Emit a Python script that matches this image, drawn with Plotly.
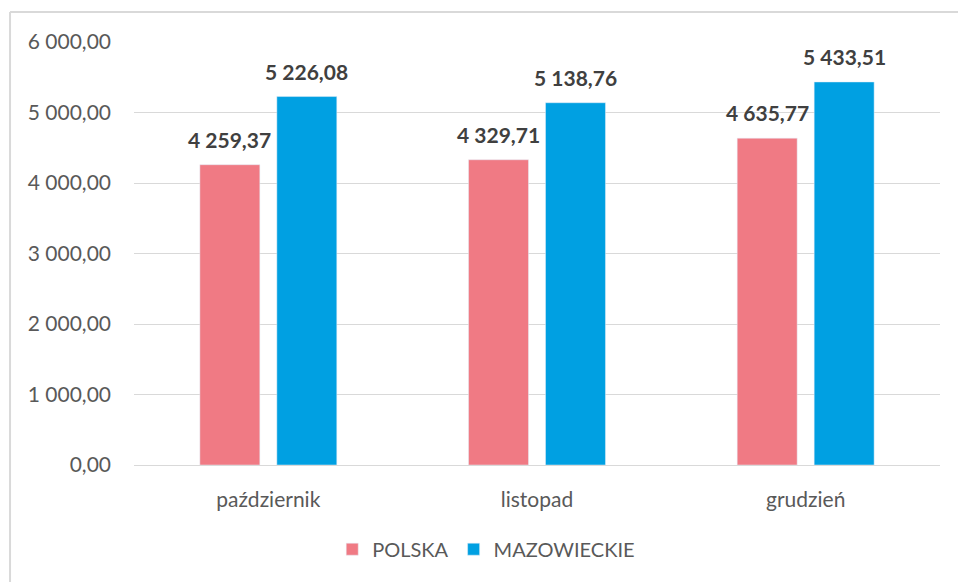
import plotly.graph_objects as go

categories = ["październik", "listopad", "grudzień"]
polska = [4259.37, 4329.71, 4635.77]
mazowieckie = [5226.08, 5138.76, 5433.51]
y_ticks = [0, 1000, 2000, 3000, 4000, 5000, 6000]
y_tick_labels = ["0,00", "1 000,00", "2 000,00", "3 000,00", "4 000,00", "5 000,00", "6 000,00"]

def fmt(v):
    s = f"{v:,.2f}"
    return s.replace(",", " ").replace(".", ",")

FONT = "Lato"
LABEL_FONT = dict(family=FONT, size=21, color="#404040", weight="bold")
fig = go.Figure()
fig.add_trace(go.Bar(name="POLSKA", x=categories, y=polska, marker_color="#F07A84",
                     offsetgroup="p"))
fig.add_trace(go.Bar(name="MAZOWIECKIE", x=categories, y=mazowieckie, marker_color="#00A0E2",
                     offsetgroup="m"))

fig.update_layout(
    width=958, height=582,
    margin=dict(l=134, r=18, t=42, b=117),
    paper_bgcolor="white", plot_bgcolor="white",
    barmode="group", bargap=0.427, bargroupgap=0.221,
    font=dict(family=FONT, size=20, color="#595959"),
    showlegend=True,
    legend=dict(orientation="h", x=0.437, y=-0.199, xanchor="center", yanchor="middle",
                font=dict(family=FONT, size=20, color="#595959"), itemwidth=30,
                traceorder="normal"),
    xaxis=dict(showgrid=False, showline=True, linecolor="#d9d9d9", linewidth=1,
               ticks="", tickfont=dict(size=21, color="#595959"), ticklabelstandoff=16),
    yaxis=dict(range=[0, 6000], tickvals=y_ticks, ticktext=y_tick_labels,
               showgrid=True, gridcolor="#d9d9d9", gridwidth=1, zeroline=False,
               showline=False, ticks="", ticklabelstandoff=22,
               tickfont=dict(size=21, color="#595959")),
    shapes=[
        dict(type="line", xref="paper", yref="paper", x0=-0.1538, x1=-0.1538, y0=1.071, y1=-0.5,
             line=dict(color="#d9d9d9", width=2)),
        dict(type="line", xref="paper", yref="paper", x0=-0.1538, x1=1.1, y0=1.071, y1=1.071,
             line=dict(color="#d9d9d9", width=2)),
    ],
)

# data labels: positioned from the data values through the axes; the
# x offset is the bar's offset within its category group
n_series = 2
slot = (1 - 0.427) / n_series
for si, series in enumerate([polska, mazowieckie]):
    off = -((1 - 0.427) / 2) + slot * (si + 0.5)
    for ci, v in enumerate(series):
        fig.add_annotation(x=ci + off, y=v, xref="x", yref="y", text=fmt(v),
                           showarrow=False, yanchor="bottom", yshift=11,
                           font=LABEL_FONT)

fig.write_html("out.html", post_script="document.body.style.margin='0';",
               config={"displayModeBar": False})
